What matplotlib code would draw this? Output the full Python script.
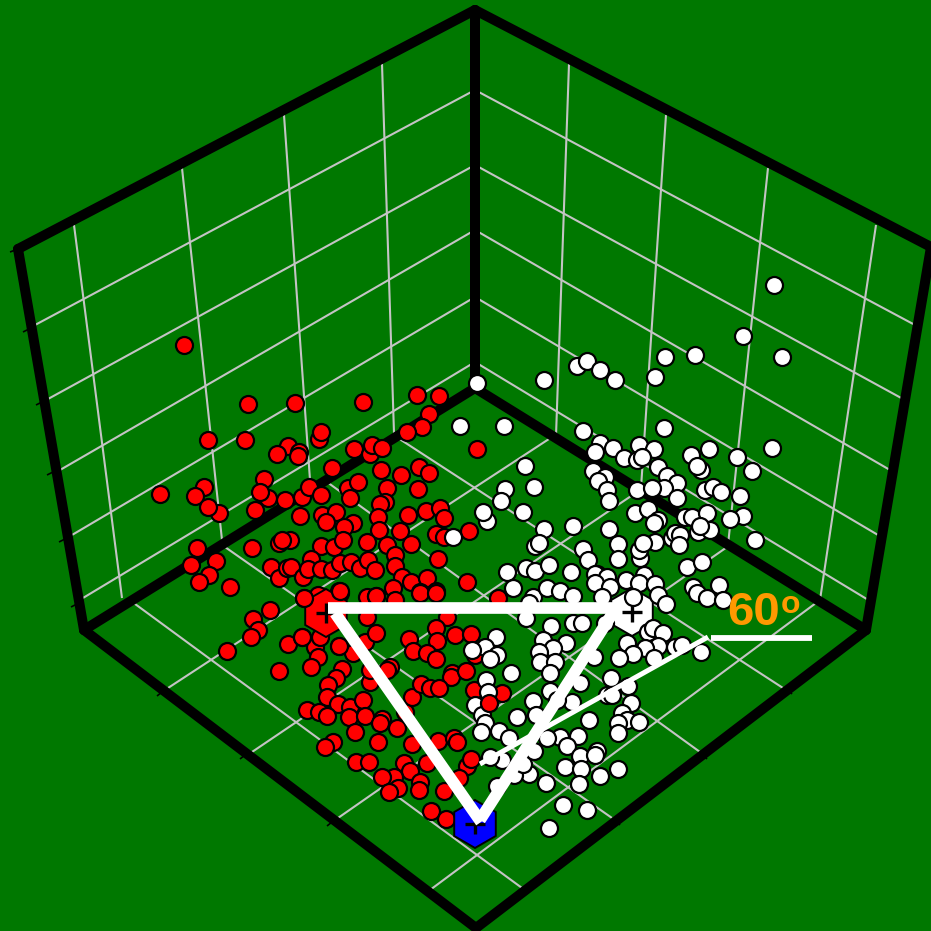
"""Vista 3D a lo largo de la diagonal: nubes de puntos y triangulo de 60 grados."""

import matplotlib

matplotlib.use("Agg")
import matplotlib.pyplot as plt
from matplotlib.patches import RegularPolygon

# Positions, in picture units (931 x 931, y down)
FRAME_EDGES = [
    ((475, 388), (84, 630)), ((475, 388), (866, 630)), ((475, 388), (475, 10)),
    ((475, 10), (18, 249)), ((475, 10), (931, 247)),
    ((18, 249), (84, 630)), ((931, 247), (866, 630)),
    ((84, 630), (476, 928)), ((866, 630), (476, 928)),
]
GRID_LEFT = [
    ((74, 225), (122, 598)), ((182, 168), (222, 540)), ((284, 115), (310, 480)), ((382, 64), (394, 433)),
    ((35, 325), (475, 90)), ((48, 399), (475, 165)), ((60, 470), (475, 230)),
    ((72, 535), (475, 297)), ((78, 601), (475, 362)),
]
GRID_RIGHT = [
    ((569, 64), (556, 436)), ((666, 115), (641, 488)), ((768, 168), (728, 545)), ((876, 225), (820, 600)),
    ((475, 90), (915, 325)), ((475, 165), (903, 399)), ((475, 230), (890, 470)),
    ((475, 297), (878, 535)), ((475, 362), (870, 601)),
]
GRID_FLOOR = [
    ((398, 438), (783, 688)), ((327, 482), (700, 752)), ((225, 547), (612, 818)), ((131, 601), (522, 888)),
    ((552, 437), (168, 688)), ((640, 490), (252, 752)), ((730, 545), (338, 818)), ((820, 600), (430, 890)),
]
TICKS = [
    ((10, 252), (18, 249)), ((23, 332), (31, 328)), ((36, 405), (44, 401)), ((47, 475), (55, 471)),
    ((59, 542), (67, 538)), ((71, 607), (79, 603)),
    ((157, 696), (162, 692)), ((240, 759), (245, 755)), ((327, 826), (332, 822)),
    ((788, 690), (792, 694)), ((703, 755), (707, 759)), ((616, 821), (620, 825)),
]

RED_X = [184, 248, 295, 363, 417, 439, 429, 422, 407, 208, 245, 319, 321, 288, 277, 299, 298, 354, 370, 372, 382,
         332, 381, 401, 419, 429, 418, 264, 204, 195, 160, 219, 208, 268, 260, 255, 285, 302, 309, 321, 348, 358,
         350, 387, 385, 380, 300, 322, 336, 326, 408, 426, 440, 444, 378, 353, 344, 379, 400, 469, 436, 444, 197,
         252, 279, 290, 282, 321, 334, 343, 367, 387, 411, 395, 438, 216, 191, 209, 199, 230, 271, 279, 287, 291,
         303, 311, 308, 321, 332, 340, 351, 360, 368, 375, 395, 402, 411, 427, 393, 420, 436, 467, 339, 304, 318,
         322, 367, 376, 395, 270, 253, 258, 251, 227, 279, 288, 302, 315, 320, 318, 311, 339, 353, 365, 376, 367,
         340, 376, 420, 436, 498, 447, 436, 437, 409, 413, 427, 436, 455, 471, 475, 452, 451, 466, 390, 387, 370,
         370, 342, 336, 328, 327, 338, 307, 319, 327, 350, 349, 363, 365, 355, 382, 380, 397, 405, 412, 421, 430,
         439, 378, 333, 325, 356, 369, 412, 438, 454, 457, 467, 427, 404, 410, 394, 382, 420, 419, 398, 389, 459,
         444, 431, 446, 474, 502, 477]
RED_Y = [345, 404, 403, 402, 395, 396, 414, 427, 432, 440, 440, 439, 432, 446, 454, 452, 456, 449, 454, 445, 448,
         468, 470, 475, 467, 473, 489, 479, 487, 496, 494, 513, 507, 498, 492, 510, 500, 497, 487, 495, 488, 482,
         498, 488, 502, 504, 516, 515, 512, 522, 515, 511, 508, 518, 517, 523, 527, 530, 531, 531, 534, 537, 548,
         548, 543, 540, 540, 546, 547, 540, 542, 545, 544, 555, 559, 561, 565, 575, 582, 587, 567, 578, 568, 567,
         577, 559, 569, 569, 570, 563, 562, 568, 560, 570, 566, 577, 582, 578, 588, 592, 591, 582, 591, 598, 595,
         602, 597, 596, 600, 610, 619, 630, 637, 651, 671, 644, 637, 647, 637, 657, 667, 646, 653, 642, 633, 617,
         593, 596, 593, 593, 598, 617, 628, 641, 639, 651, 653, 659, 635, 634, 655, 673, 677, 671, 667, 670, 682,
         670, 669, 678, 685, 697, 704, 710, 712, 716, 707, 717, 700, 716, 732, 719, 723, 728, 712, 697, 684, 688,
         688, 742, 742, 747, 762, 762, 744, 741, 738, 742, 766, 763, 763, 771, 777, 777, 782, 790, 788, 792, 778,
         791, 811, 819, 690, 693, 449]
# red points that sit in front of the big hexagon or of the white cloud
RED_TOP_X = [489, 471, 304, 340, 302, 339]
RED_TOP_Y = [703, 759, 598, 591, 637, 646]

WHITE_X = [774, 743, 782, 695, 665, 655, 577, 587, 600, 615, 544, 477, 460, 504, 583, 664, 772, 709, 737, 752, 691,
           701, 697, 600, 613, 595, 624, 639, 654, 637, 642, 658, 667, 677, 664, 593, 605, 598, 607, 609, 637, 652,
           677, 705, 713, 721, 740, 525, 534, 505, 501, 487, 483, 523, 635, 648, 658, 654, 685, 692, 707, 698, 710,
           700, 743, 730, 755, 544, 573, 609, 618, 535, 539, 583, 588, 618, 640, 639, 655, 643, 672, 675, 680, 679,
           687, 702, 453, 507, 526, 535, 549, 571, 597, 513, 533, 529, 547, 560, 573, 595, 607, 595, 610, 626, 644,
           639, 655, 602, 633, 658, 666, 693, 697, 707, 719, 723, 526, 551, 573, 582, 605, 543, 566, 553, 539, 540,
           555, 550, 627, 648, 653, 663, 658, 645, 633, 619, 654, 675, 682, 701, 594, 496, 485, 472, 497, 490, 511,
           611, 628, 580, 607, 612, 631, 486, 488, 475, 482, 485, 481, 499, 509, 533, 550, 572, 557, 517, 536, 589,
           622, 627, 639, 618, 618, 560, 578, 547, 567, 580, 597, 595, 565, 581, 600, 618, 579, 546, 529, 514, 523,
           534, 502, 490, 497, 563, 587, 549]
WHITE_Y = [285, 336, 357, 355, 357, 377, 366, 361, 370, 380, 380, 383, 426, 426, 431, 428, 448, 449, 457, 471, 455,
           470, 466, 443, 448, 452, 458, 445, 449, 460, 457, 467, 476, 483, 488, 471, 477, 481, 490, 501, 490, 488,
           498, 490, 487, 492, 496, 466, 487, 489, 501, 521, 512, 512, 513, 509, 520, 523, 517, 517, 513, 532, 530,
           526, 516, 519, 540, 529, 526, 529, 544, 546, 543, 549, 560, 559, 558, 550, 542, 543, 538, 533, 535, 545,
           567, 562, 537, 572, 568, 571, 565, 572, 574, 588, 597, 603, 588, 591, 596, 574, 577, 583, 587, 580, 575,
           583, 584, 597, 597, 595, 604, 587, 593, 598, 585, 600, 618, 626, 623, 623, 623, 640, 643, 648, 652, 662,
           662, 673, 643, 632, 628, 633, 646, 648, 654, 658, 658, 647, 645, 652, 657, 637, 647, 650, 655, 659, 673,
           678, 686, 683, 695, 695, 703, 680, 692, 705, 715, 723, 732, 731, 738, 701, 691, 702, 700, 717, 715, 720,
           713, 720, 722, 723, 733, 737, 736, 738, 746, 756, 751, 755, 767, 769, 776, 769, 784, 783, 774, 775, 764,
           751, 760, 757, 786, 805, 810, 828]

HEX_X = [326, 632, 475]
HEX_Y = [613, 612, 824]
HEX_COLORS = ["#ff0000", "#ffffff", "#0000ff"]

TRIANGLE_SIDES = [
    ((328, 608), (617, 608)),
    ((335, 613), (481, 822)),
    ((616, 608), (480, 820)),
]
ANGLE_MARK = ((480, 764), (708, 637))
ANGLE_BAR = ((711, 638), (812, 638))

BACKGROUND = "#007800"
GRID_COLOR = "#c4c4c4"
ORANGE = "#ff9900"


def draw_segments(ax, segments, **kwargs):
    for (x0, y0), (x1, y1) in segments:
        ax.plot([x0, x1], [y0, y1], **kwargs)


fig = plt.figure(figsize=(9.31, 9.31), dpi=100, facecolor=BACKGROUND)
ax = fig.add_axes([0, 0, 1, 1])
ax.set_xlim(0, 931)
ax.set_ylim(931, 0)
ax.axis("off")

for segments in (GRID_LEFT, GRID_RIGHT, GRID_FLOOR):
    draw_segments(ax, segments, color=GRID_COLOR, lw=1.5, zorder=1, solid_capstyle="butt")
draw_segments(ax, TICKS, color="black", lw=1.2, zorder=1.5, solid_capstyle="butt")
draw_segments(ax, FRAME_EDGES, color="black", lw=7.2, zorder=2, solid_capstyle="round")

MARKER_SIZE = (17 * 0.72) ** 2
ax.scatter(RED_X, RED_Y, s=MARKER_SIZE, c="#ff0000", edgecolors="black", linewidths=1.6, zorder=3)

# hexagons go over the red cloud but under the white one
for x, y, face in zip(HEX_X, HEX_Y, HEX_COLORS):
    ax.add_patch(RegularPolygon((x, y), 6, radius=24, facecolor=face, edgecolor="black", lw=1.4, zorder=4))
ax.scatter(HEX_X, HEX_Y, s=210, marker="+", c="black", linewidths=2.4, zorder=4.5)

ax.scatter(WHITE_X, WHITE_Y, s=MARKER_SIZE, c="#ffffff", edgecolors="black", linewidths=1.6, zorder=5)
ax.scatter(RED_TOP_X, RED_TOP_Y, s=MARKER_SIZE, c="#ff0000", edgecolors="black", linewidths=1.6, zorder=6)

draw_segments(ax, TRIANGLE_SIDES, color="white", lw=8.4, zorder=7, solid_capstyle="butt")
draw_segments(ax, [ANGLE_MARK], color="white", lw=3.6, zorder=7, solid_capstyle="butt")
draw_segments(ax, [ANGLE_BAR], color="white", lw=4.2, zorder=7, solid_capstyle="butt")

ax.text(727, 625, "60", color=ORANGE, fontsize=34, fontweight="bold",
        family="Liberation Sans", ha="left", va="baseline", zorder=8)
ax.text(781, 613, "o", color=ORANGE, fontsize=23, fontweight="bold",
        family="Liberation Sans", ha="left", va="baseline", zorder=8)

fig.savefig("out.png", dpi=100, facecolor=BACKGROUND)
plt.close(fig)
